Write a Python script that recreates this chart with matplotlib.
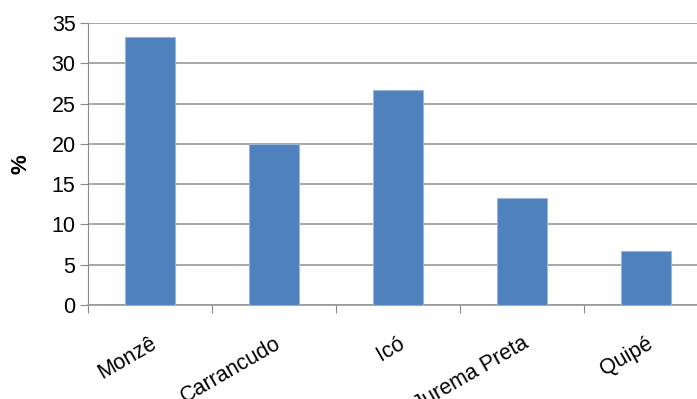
import matplotlib.pyplot as plt
import numpy as np

plt.rcParams['font.family'] = ['Liberation Sans', 'DejaVu Sans']

# data
categories = ['Monzê', 'Carrancudo', 'Icó', 'Jurema Preta', 'Quipé']
percent = [33.3, 20.0, 26.7, 13.3, 6.7]

fig = plt.figure(figsize=(6.97, 3.99), dpi=100)
# plot area runs off the right edge in the original
ax = fig.add_axes([0.1263, 0.2356, 0.8895, 0.7068])

x = np.arange(len(categories))
ax.bar(x, percent, width=0.4, color='#4F81BD', edgecolor='#9DB5D6', linewidth=0.8, zorder=3)

ax.set_xlim(-0.5, len(categories) - 0.5)
ax.set_ylim(0, 35)
ax.set_yticks(np.arange(0, 36, 5))
ax.yaxis.grid(True, color='#9A9A9A', linewidth=1.2, zorder=0)

# tick marks at category boundaries
ax.set_xticks(np.arange(len(categories) + 1) - 0.5)
ax.set_xticklabels([])
ax.set_xticks(x, minor=True)
ax.set_xticklabels(categories, minor=True, rotation=30, ha='right', rotation_mode='anchor', fontsize=15.5)
ax.tick_params(axis='x', which='minor', length=0, pad=20)
ax.tick_params(axis='x', which='major', length=6, color='#888888', direction='out')
ax.tick_params(axis='y', length=6, color='#888888', labelsize=15.5, pad=3)

for s in ['top', 'right']:
    ax.spines[s].set_visible(False)
ax.spines['left'].set_color('#888888')
ax.spines['bottom'].set_color('#9A9A9A')
ax.spines['bottom'].set_linewidth(1.2)

ax.set_ylabel('%', fontsize=16, fontweight='bold', labelpad=14)

fig.savefig('out.png', dpi=100)
